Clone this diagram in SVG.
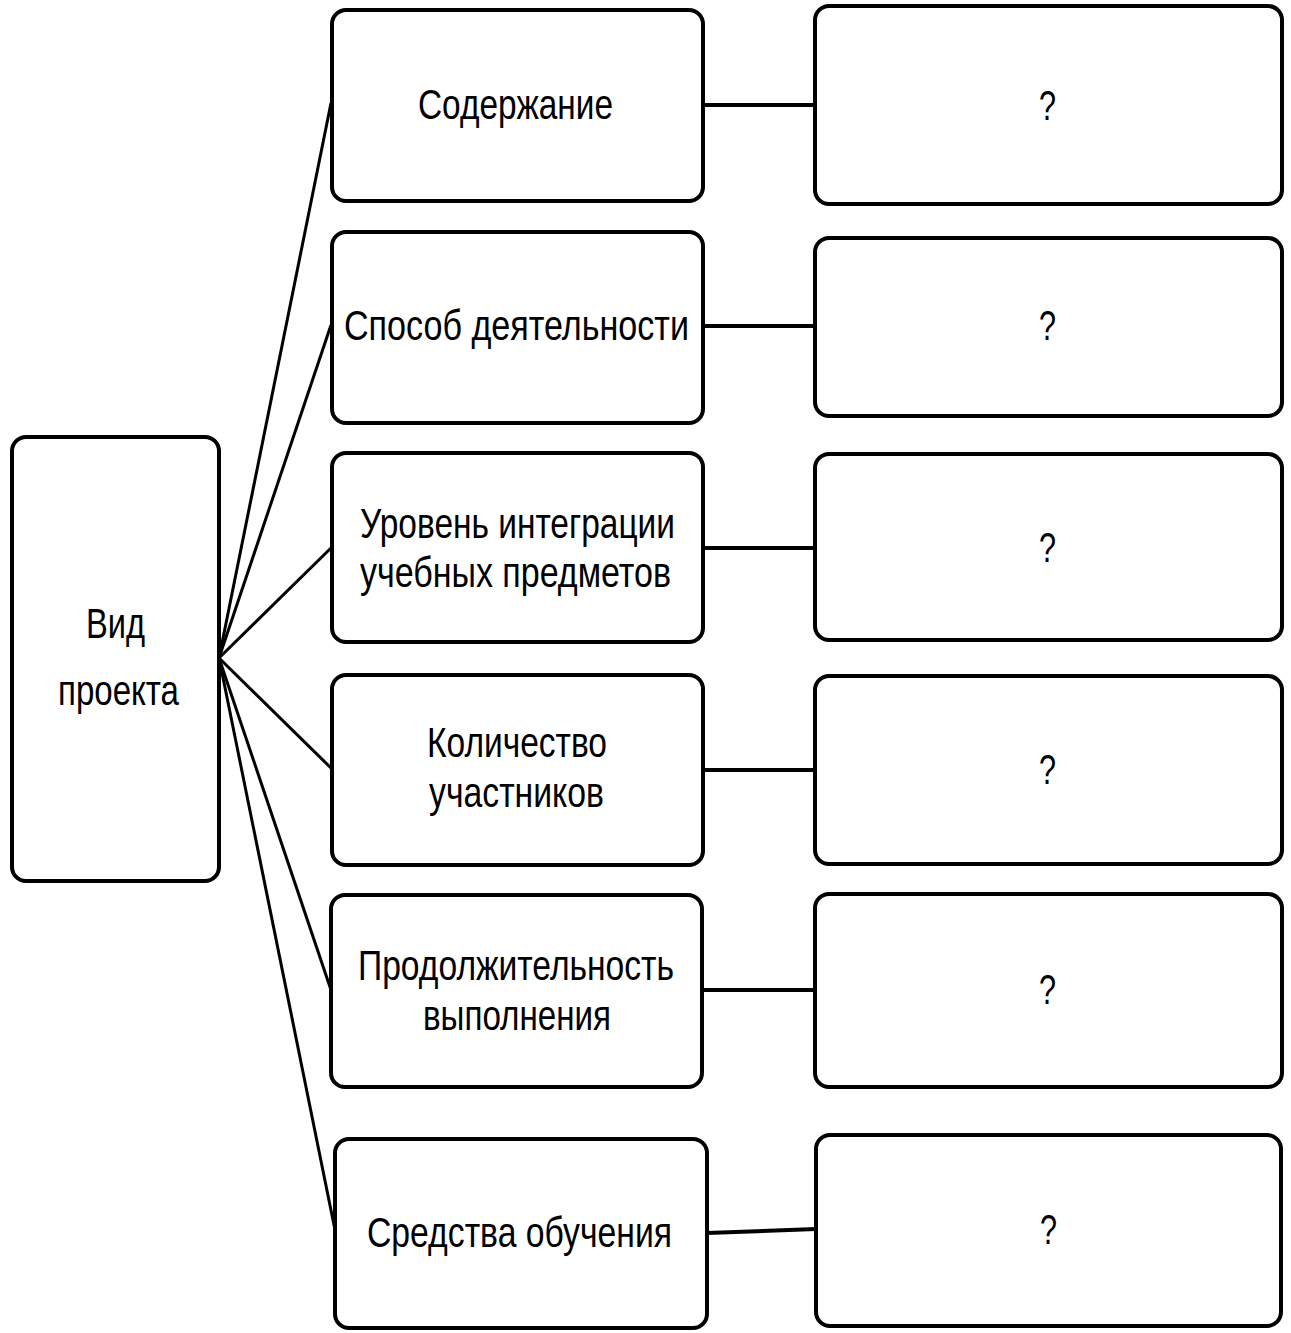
<svg xmlns="http://www.w3.org/2000/svg" width="1291" height="1333" viewBox="0 0 1291 1333">
<style>
.box{fill:#fff;stroke:#000;stroke-width:4}
.t{font-family:"Liberation Sans",Arial,sans-serif;font-size:43px;fill:#000}
.fan{stroke:#000;stroke-width:3;fill:none}
.h{stroke:#000;stroke-width:4;fill:none}
</style>
<rect width="1291" height="1333" fill="#fff"/>
<g id="connectors">
<line class="fan" x1="219" y1="658" x2="331" y2="103"/>
<line class="fan" x1="219" y1="658" x2="331" y2="325"/>
<line class="fan" x1="219" y1="658" x2="331" y2="548"/>
<line class="fan" x1="219" y1="658" x2="331" y2="768"/>
<line class="fan" x1="219" y1="658" x2="331" y2="990"/>
<line class="fan" x1="219" y1="658" x2="335" y2="1230"/>
<line class="h" x1="703" y1="105" x2="815" y2="105"/>
<line class="h" x1="703" y1="326" x2="815" y2="326"/>
<line class="h" x1="703" y1="548" x2="815" y2="548"/>
<line class="h" x1="703" y1="770" x2="815" y2="770"/>
<line class="h" x1="702" y1="990" x2="815" y2="990"/>
<line class="h" x1="707" y1="1233" x2="816" y2="1229"/>
</g>
<g id="root">
<rect class="box" x="12" y="437" width="207" height="444" rx="14"/>
<text class="t" x="86" y="638" textLength="59" lengthAdjust="spacingAndGlyphs">Вид</text>
<text class="t" x="58" y="705" textLength="121" lengthAdjust="spacingAndGlyphs">проекта</text>
</g>
<g id="n1">
<rect class="box" x="332" y="10" width="371" height="191" rx="14"/>
<text class="t" x="418" y="119" textLength="195" lengthAdjust="spacingAndGlyphs">Содержание</text>
</g>
<g id="n2">
<rect class="box" x="332" y="232" width="371" height="191" rx="14"/>
<text class="t" x="344" y="340" textLength="345" lengthAdjust="spacingAndGlyphs">Способ деятельности</text>
</g>
<g id="n3">
<rect class="box" x="332" y="453" width="371" height="189" rx="14"/>
<text class="t" x="360" y="538" textLength="315" lengthAdjust="spacingAndGlyphs">Уровень интеграции</text>
<text class="t" x="360" y="587" textLength="311" lengthAdjust="spacingAndGlyphs">учебных предметов</text>
</g>
<g id="n4">
<rect class="box" x="332" y="675" width="371" height="190" rx="14"/>
<text class="t" x="427" y="757" textLength="180" lengthAdjust="spacingAndGlyphs">Количество</text>
<text class="t" x="429" y="807" textLength="175" lengthAdjust="spacingAndGlyphs">участников</text>
</g>
<g id="n5">
<rect class="box" x="331" y="895" width="371" height="192" rx="14"/>
<text class="t" x="358" y="980" textLength="316" lengthAdjust="spacingAndGlyphs">Продолжительность</text>
<text class="t" x="423" y="1030" textLength="188" lengthAdjust="spacingAndGlyphs">выполнения</text>
</g>
<g id="n6">
<rect class="box" x="335" y="1139" width="372" height="189" rx="14"/>
<text class="t" x="367" y="1247" textLength="305" lengthAdjust="spacingAndGlyphs">Средства обучения</text>
</g>
<g id="r1">
<rect class="box" x="815" y="6" width="467" height="198" rx="14"/>
<text class="t" x="1039" y="120" textLength="17" lengthAdjust="spacingAndGlyphs">?</text>
</g>
<g id="r2">
<rect class="box" x="815" y="238" width="467" height="178" rx="14"/>
<text class="t" x="1039" y="340" textLength="17" lengthAdjust="spacingAndGlyphs">?</text>
</g>
<g id="r3">
<rect class="box" x="815" y="454" width="467" height="186" rx="14"/>
<text class="t" x="1039" y="562" textLength="17" lengthAdjust="spacingAndGlyphs">?</text>
</g>
<g id="r4">
<rect class="box" x="815" y="676" width="467" height="188" rx="14"/>
<text class="t" x="1039" y="784" textLength="17" lengthAdjust="spacingAndGlyphs">?</text>
</g>
<g id="r5">
<rect class="box" x="815" y="894" width="467" height="193" rx="14"/>
<text class="t" x="1039" y="1004" textLength="17" lengthAdjust="spacingAndGlyphs">?</text>
</g>
<g id="r6">
<rect class="box" x="816" y="1135" width="465" height="191" rx="14"/>
<text class="t" x="1040" y="1244" textLength="17" lengthAdjust="spacingAndGlyphs">?</text>
</g>
</svg>
